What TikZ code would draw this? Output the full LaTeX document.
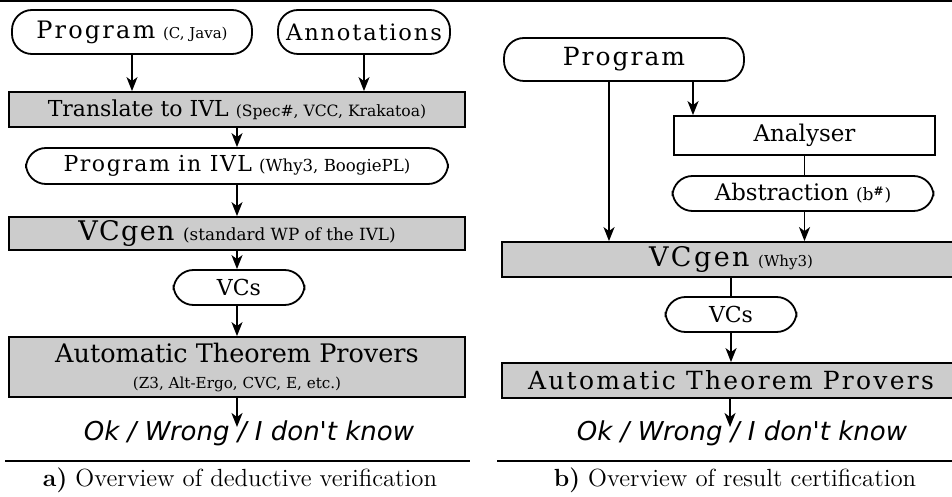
\documentclass[tikz,border=0pt]{standalone}
\usepackage{fontspec}
\newfontfamily\dvserif{DejaVu Serif}
\newfontfamily\dvsans{DejaVu Sans}
\usetikzlibrary{arrows.meta}
\newcommand\szA{\fontsize{11}{13}\selectfont}
\newcommand\szB{\fontsize{12.5}{15}\selectfont}
\newcommand\szG{\fontsize{13.5}{16}\selectfont}
\newcommand\szX[1]{\fontsize{#1}{#1}\selectfont}
\newcommand\lsp[2]{{\addfontfeatures{LetterSpace=#1}#2}}
\begin{document}
\begin{tikzpicture}[x=0.5pt,y=-0.5pt,
  graybox/.style={draw, line width=0.9pt, fill=gray!40, inner sep=0pt, font=\dvserif},
  whitebox/.style={draw, line width=0.9pt, fill=white, inner sep=0pt, font=\dvserif},
  pill/.style={draw, line width=0.9pt, fill=white, rounded corners=10pt, inner sep=0pt, font=\dvserif},
  arr/.style={line width=0.9pt, -{Stealth[length=7pt,width=5.5pt,inset=2pt]}},
  ln/.style={line width=0.9pt},
  rule/.style={line width=0.7pt},
  restext/.style={inner sep=0pt, font=\dvsans\itshape\fontsize{13}{15}\selectfont},
  caption/.style={inner sep=0pt, font=\fontsize{12.4}{14}\selectfont}]
\useasboundingbox (0,0) rectangle (952,497);
% top rule
\draw[rule] (0,1) -- (952,1);

% ---------- left panel ----------
\node[pill, minimum width=120pt, minimum height=22pt] (prog) at (132,32) {\szX{12}\lsp{9}{Program} \szX{7.5}(C, Java)};
\node[pill, minimum width=86pt, minimum height=22pt] (ann) at (364,32) {\szX{11.3}\lsp{8}{Annotations}};
\node[graybox, minimum width=228pt, minimum height=17.5pt] (trans) at (237,109.5) {\szA Translate to IVL \szX{7.8}(Spec\#, VCC, Krakatoa)};
\node[pill, minimum width=211pt, minimum height=18pt] (pivl) at (237,166) {\szA\lsp{7}{Program in IVL} \szX{8.3}(Why3, BoogiePL)};
\node[graybox, minimum width=228pt, minimum height=16.5pt] (vcg) at (237,233.5) {\szG\lsp{5}{VCgen} \szX{8.4}(standard WP of the IVL)};
\node[pill, minimum width=65.5pt, minimum height=17.5pt] (vcs) at (239,287.5) {\szA VCs};
\node[graybox, minimum width=228pt, minimum height=30pt, align=center] (atp) at (237,367) {\szX{12.75}Automatic Theorem Provers\\[1pt]\szX{7.6}(Z3, Alt-Ergo, CVC, E, etc.)};
\node[restext] (res) at (249,433) {Ok / Wrong / I don't know};
\coordinate (resin) at (237,427);
\node[caption] (capa) at (240,480) {\textbf{a)} Overview of deductive verification};
\coordinate (rla) at (5,461);
\coordinate (rlb) at (470,461);
\draw[rule] (rla) -- (rlb);

\draw[arr] (prog.south) -- (prog.south |- trans.north);
\draw[arr] (ann.south) -- (ann.south |- trans.north);
\draw[arr] (trans.south) -- (pivl.north);
\draw[arr] (pivl.south) -- (vcg.north);
\draw[arr] (vcg.south) -- (vcg.south |- vcs.north);
\draw[arr] (vcg.south |- vcs.south) -- (atp.north);
\draw[arr] (atp.south) -- (resin);

% ---------- right panel ----------
\node[pill, minimum width=120pt, minimum height=21.5pt] (rprog) at (624,59.5) {\szB\lsp{8}{Program}};
\node[whitebox, minimum width=130.5pt, minimum height=19.5pt] (anl) at (804.5,135.5) {\szX{11.5}Analyser};
\node[pill, minimum width=130.5pt, minimum height=17.5pt] (abs) at (803,193.5) {\szX{11.4}Abstraction \szX{8.5}(b\textsuperscript{\textbf{\#}})};
\node[graybox, minimum width=229pt, minimum height=17.5pt] (rvcg) at (731,259.5) {\szG\lsp{9}{VCgen} \szX{7.5}(Why3)};
\node[pill, minimum width=65.5pt, minimum height=17.5pt] (rvcs) at (731,314.5) {\szA VCs};
\node[graybox, minimum width=229pt, minimum height=17.5pt] (ratp) at (731,380.5) {\szB\lsp{9}{Automatic Theorem Provers}};
\node[restext] (rres) at (742,433) {Ok / Wrong / I don't know};
\coordinate (rresin) at (730,427);
\node[caption] (capb) at (735,480) {\textbf{b)} Overview of result certification};
\coordinate (rra) at (497,461);
\coordinate (rrb) at (952,461);
\draw[rule] (rra) -- (rrb);

\coordinate (pl) at (609,0);
\coordinate (pr) at (693,0);
\draw[arr] (rprog.south -| pl) -- (rvcg.north -| pl);
\draw[arr] (rprog.south -| pr) -- (anl.north -| pr);
\draw[ln] (anl.south) -- (anl.south |- abs.north);
\draw[arr] (anl.south |- abs.south) -- (anl.south |- rvcg.north);
\draw[ln] (rvcg.south -| rvcs) -- (rvcs.north);
\draw[arr] (rvcs.south) -- (ratp.north -| rvcs);
\draw[arr] (ratp.south -| rresin) -- (rresin);
\end{tikzpicture}
\end{document}
